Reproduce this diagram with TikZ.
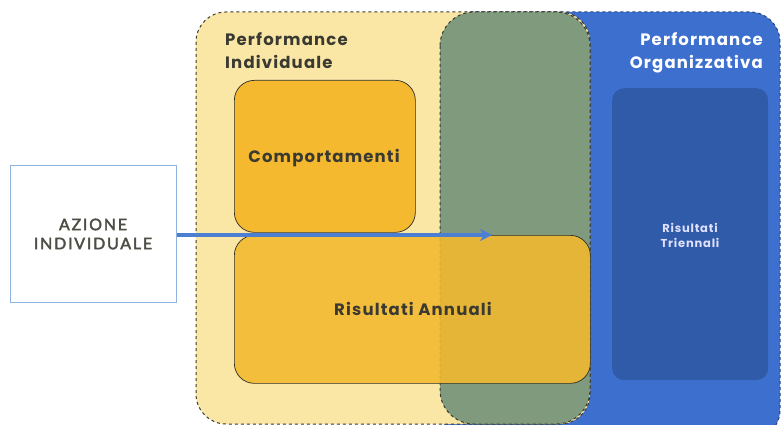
\documentclass[tikz,border=0pt]{standalone}
\usetikzlibrary{arrows.meta}
\usepackage{fontspec}
\setmainfont{Poppins}[LetterSpace=7]
\newfontfamily\gill{Lato}[LetterSpace=11, FakeBold=2.5]
\definecolor{yel}{HTML}{FAE7A6}
\definecolor{grn}{HTML}{7F9A7C}
\definecolor{blu}{HTML}{3D70CE}
\definecolor{dblu}{HTML}{2F5BA8}
\definecolor{orng}{HTML}{F4B92F}
\definecolor{txt}{HTML}{3A3A32}
\definecolor{abox}{HTML}{8EB3E0}
\definecolor{arr}{HTML}{4C7FD2}
\begin{document}
\begin{tikzpicture}[x=1pt,y=-1pt,
  inner/.style={draw=txt!80!black, line width=0.7pt, rounded corners=20pt},
  lbl/.style={font=\bfseries\fontsize{16.5}{23}\selectfont, text=txt, align=left, inner sep=0pt}]
\useasboundingbox (0,0) rectangle (782,425);
% blue region
\path[fill=blu, draw=blu!60!black, dashed, line width=1pt, rounded corners=30pt] (440,12) rectangle (780,440);
% yellow region
\path[fill=yel, draw=txt, dashed, line width=1pt, rounded corners=30pt] (196,12) rectangle (590,424);
% green overlap
\path[fill=grn, draw=txt, dashed, line width=1pt, rounded corners=34pt] (440,12) rectangle (590,424);
% dark blue inner
\node[draw=none, fill=dblu, rounded corners=12pt, minimum width=156pt, minimum height=292pt, anchor=north west] (tri) at (612,88) {};
\node[font=\bfseries\fontsize{11.5}{15}\selectfont, text=white!88!blue, align=center] (tritxt) at (690,235) {Risultati\\Triennali};
% Comportamenti
\node[inner, fill=orng, minimum width=181pt, minimum height=152pt, anchor=north west, inner sep=0pt] (comp) at (234,80) {};
\node[lbl] (comptxt) at (324,158) {Comportamenti};
% Risultati Annuali
\node[inner, fill=orng, fill opacity=0.88, minimum width=356pt, minimum height=148pt, anchor=north west, inner sep=0pt] (ann) at (234,235) {};
\node[lbl] (anntxt) at (413,309) {Risultati Annuali};
% titles
\node[lbl, anchor=north west] (pi) at (225,32) {Performance\\Individuale};
\node[lbl, text=white, align=right, anchor=north east] (po) at (763,32) {Performance\\Organizzativa};
% azione box
\node[draw=abox, line width=1.2pt, fill=white, minimum width=166pt, minimum height=137pt, anchor=north west, inner sep=0pt] (az) at (10,165) {};
\node[font=\gill\fontsize{16}{19}\selectfont, text=txt!90, align=center] (aztxt) at (93,234) {AZIONE\\INDIVIDUALE};
\coordinate (tip) at (492,235);
\draw[draw=arr, line width=4pt, -{Stealth[length=12pt,width=12pt]}] (az.east |- tip) -- (tip);
\end{tikzpicture}
\end{document}
